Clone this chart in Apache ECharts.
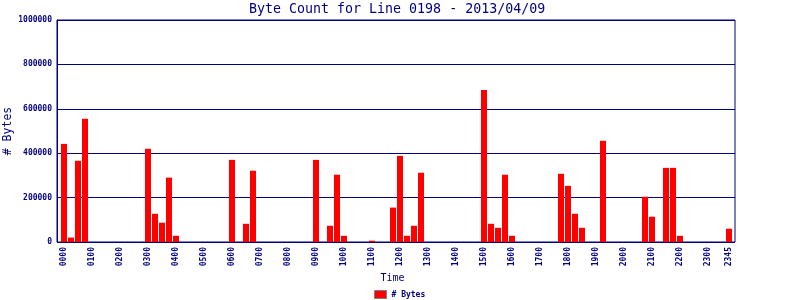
<!DOCTYPE html>
<html>
<head>
<meta charset="utf-8">
<script src="https://cdn.jsdelivr.net/npm/echarts@6/dist/echarts.min.js"></script>
<style>html,body{margin:0;padding:0;background:#fff;}#c{width:800px;height:300px;}</style>
</head>
<body>
<div id="c"></div>
<script>
var titleText = 'Byte Count for Line 0198 - 2013/04/09';
var seriesName = '# Bytes';
var xAxisName = 'Time';
var yAxisName = '# Bytes';
var categories = [
 '0000','0015','0030','0045','0100','0115','0130','0145','0200','0215','0230','0245',
 '0300','0315','0330','0345','0400','0415','0430','0445','0500','0515','0530','0545',
 '0600','0615','0630','0645','0700','0715','0730','0745','0800','0815','0830','0845',
 '0900','0915','0930','0945','1000','1015','1030','1045','1100','1115','1130','1145',
 '1200','1215','1230','1245','1300','1315','1330','1345','1400','1415','1430','1445',
 '1500','1515','1530','1545','1600','1615','1630','1645','1700','1715','1730','1745',
 '1800','1815','1830','1845','1900','1915','1930','1945','2000','2015','2030','2045',
 '2100','2115','2130','2145','2200','2215','2230','2245','2300','2315','2330','2345'
];
var byteCounts = [
 442000, 20000, 366000, 555000, 0, 0, 0, 0, 0, 0, 0, 0,
 420000, 127000, 87000, 290000, 28000, 0, 0, 0, 0, 0, 0, 0,
 370000, 0, 82000, 321000, 0, 0, 0, 0, 0, 0, 0, 0,
 370000, 0, 73000, 303000, 28000, 0, 0, 0, 6000, 0, 0, 155000,
 388000, 28000, 73000, 312000, 0, 0, 0, 0, 0, 0, 0, 0,
 685000, 82000, 64000, 303000, 28000, 0, 0, 0, 0, 0, 0, 307000,
 253000, 127000, 64000, 0, 0, 456000, 0, 0, 0, 0, 0, 204000,
 114000, 0, 334000, 334000, 28000, 0, 0, 0, 0, 0, 0, 60000
];
var yMin = 0, yMax = 1000000, yStep = 200000;

var navy = '#000080';
var mono = 'DejaVu Sans Mono';
var chart = echarts.init(document.getElementById('c'), null, {renderer: 'canvas'});
chart.setOption({
  animation: false,
  backgroundColor: '#ffffff',
  title: {
    text: titleText, left: 249, top: 3, padding: 0,
    textStyle: {fontFamily: mono, fontSize: 13.3, fontWeight: 'normal', color: navy}
  },
  legend: {
    data: [seriesName], left: 374, top: 290, padding: 0,
    itemWidth: 12, itemHeight: 8, itemGap: 4,
    icon: 'rect',
    itemStyle: {borderColor: '#808080', borderWidth: 1},
    textStyle: {fontFamily: mono, fontSize: 8, fontWeight: 'bold', color: navy}
  },
  grid: [
    {left: 57, right: 65, top: 20, bottom: 58, show: true, borderColor: navy, borderWidth: 1,
     backgroundColor: 'transparent', containLabel: false, outerBoundsMode: 'none'},
    {left: 60.5, right: 67.5, top: 20, bottom: 58, containLabel: false, outerBoundsMode: 'none'}
  ],
  xAxis: [
    {gridIndex: 0, type: 'value', min: 0, max: 1, show: false},
    {gridIndex: 1, type: 'category', data: categories,
     name: xAxisName, nameLocation: 'middle', nameGap: 31, nameMoveOverlap: false,
     nameTextStyle: {fontFamily: mono, fontSize: 10, color: navy, padding: [0, 8, 0, 0]},
     axisLine: {show: false}, axisTick: {show: false},
     axisLabel: {
       rotate: 90, margin: 5, fontFamily: mono, fontSize: 8, fontWeight: 'bold', color: navy,
       interval: function (i) { return i % 4 === 0 || i === categories.length - 1; }
     }
    }
  ],
  yAxis: [
    {gridIndex: 0, type: 'value', min: yMin, max: yMax, interval: yStep,
     name: yAxisName, nameLocation: 'middle', nameGap: 43, nameMoveOverlap: false,
     nameTextStyle: {fontFamily: mono, fontSize: 11.5, color: navy},
     axisLine: {show: true, lineStyle: {color: navy, width: 1}},
     axisTick: {show: true, inside: true, length: 3, lineStyle: {color: navy}},
     splitLine: {show: true, lineStyle: {color: navy, width: 1}},
     axisLabel: {margin: 5, fontFamily: mono, fontSize: 8, fontWeight: 'bold', color: navy,
       formatter: function (v) { return String(v); }}
    },
    {gridIndex: 1, type: 'value', min: yMin, max: yMax, interval: yStep, show: false}
  ],
  series: [{
    name: seriesName, type: 'bar', xAxisIndex: 1, yAxisIndex: 1,
    data: byteCounts, barWidth: 6, z: 5,
    itemStyle: {color: '#ff0000'}
  }]
});
</script>
</body>
</html>
